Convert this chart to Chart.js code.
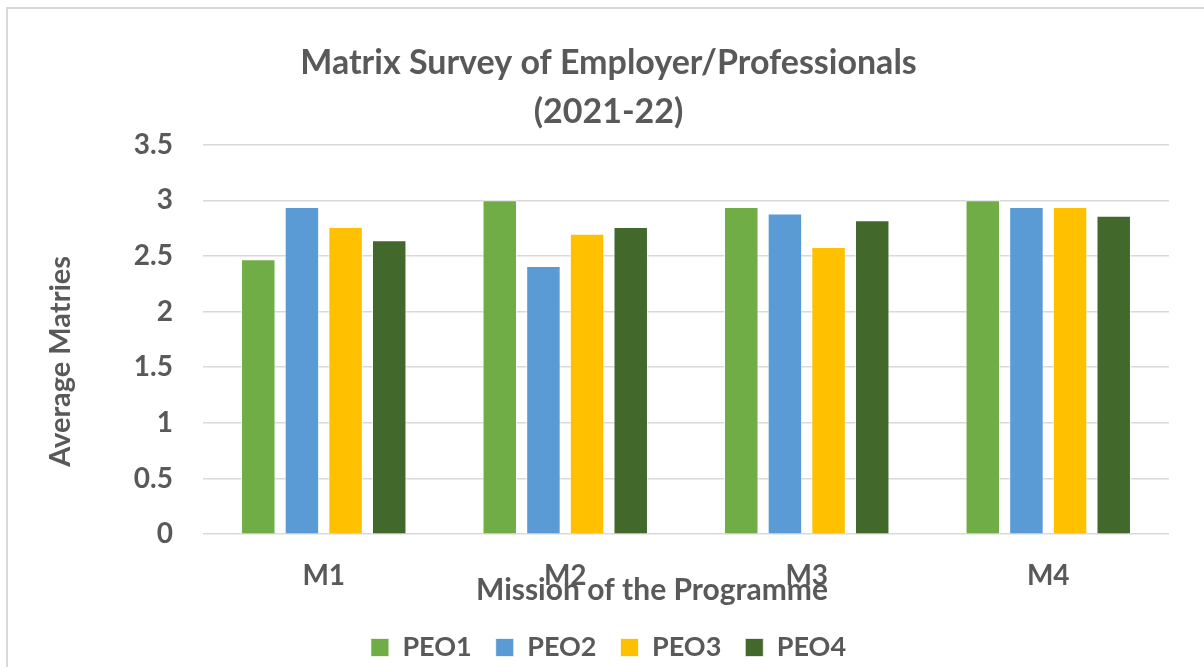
<!DOCTYPE html>
<html>
<head>
<meta charset="utf-8">
<script src="https://cdn.jsdelivr.net/npm/chart.js@4.4.0/dist/chart.umd.min.js"></script>
<style>
    body { margin: 0; background: #fff; overflow: hidden; }
    .chart-box {
        position: absolute;
        left: 6px;
        top: 7px;
        width: 1212px;
        height: 662px;
        border: 2px solid #d9d9d9;
        border-right: none;
        border-bottom: none;
    }
</style>
</head>
<body>
<div class="chart-box">
    <canvas id="surveyChart"></canvas>
</div>
<script>
// Chart data
const categories = ['M1', 'M2', 'M3', 'M4'];
const seriesNames = ['PEO1', 'PEO2', 'PEO3', 'PEO4'];
const peo1 = [2.47, 3.00, 2.94, 3.00];
const peo2 = [2.94, 2.41, 2.88, 2.94];
const peo3 = [2.76, 2.70, 2.58, 2.94];
const peo4 = [2.64, 2.76, 2.82, 2.86];
const seriesColors = ['#70AD47', '#5B9BD5', '#FFC000', '#43682B'];
const titleLines = ['Matrix Survey of Employer/Professionals', '(2021-22)'];
const xTitle = 'Mission of the Programme';
const yTitle = 'Average Matries';

const textColor = '#595959';
const fontFamily = 'Lato, "Open Sans", sans-serif';

// ==============================================
// axis titles drawn relative to the chart area
const axisTitles = {
    id: 'axisTitles',
    afterDraw(chart) {
        const ctx = chart.ctx;
        const area = chart.chartArea;
        ctx.save();
        ctx.fillStyle = textColor;
        ctx.textAlign = 'center';
        ctx.textBaseline = 'middle';
        // x axis title (sits a bit left of centre, like the original)
        ctx.font = 'bold 30px ' + fontFamily;
        ctx.fillText(xTitle, (area.left + area.right) / 2 - 34, area.bottom + 56);
        // y axis title, rotated
        ctx.font = 'bold 29px ' + fontFamily;
        ctx.translate(53, (area.top + area.bottom) / 2 + 22);
        ctx.rotate(-Math.PI / 2);
        ctx.fillText(yTitle, 0, 0);
        ctx.restore();
    }
};

const datasets = [peo1, peo2, peo3, peo4].map((values, i) => ({
    label: seriesNames[i],
    data: values,
    backgroundColor: seriesColors[i],
    borderColor: 'rgba(255,255,255,0.7)',
    borderWidth: 1,
    categoryPercentage: 0.723,
    barPercentage: 0.79
}));

new Chart(document.getElementById('surveyChart'), {
    type: 'bar',
    data: {
        labels: categories,
        datasets: datasets
    },
    plugins: [axisTitles],
    options: {
        responsive: true,
        maintainAspectRatio: false,
        animation: false,
        layout: {
            padding: { left: 40, right: 51, top: 0, bottom: 0 }
        },
        scales: {
            x: {
                grid: { display: false },
                border: { display: false },
                ticks: {
                    color: textColor,
                    font: { family: fontFamily, size: 28, weight: 'bold', lineHeight: 0.35 },
                    padding: 29
                }
            },
            y: {
                min: 0,
                max: 3.5,
                afterFit: function(scale) {
                    scale.width = 155; // room for the axis title
                },
                grid: {
                    color: '#d9d9d9',
                    lineWidth: 1.5,
                    drawTicks: false
                },
                border: { display: false },
                ticks: {
                    stepSize: 0.5,
                    color: textColor,
                    font: { family: fontFamily, size: 28, weight: 'bold' },
                    padding: 30,
                    callback: function(value) {
                        return String(value);
                    }
                }
            }
        },
        plugins: {
            title: {
                display: true,
                text: titleLines,
                color: textColor,
                font: { family: fontFamily, size: 34, weight: 'bold', lineHeight: 1.45 },
                padding: { top: 29, bottom: 8 }
            },
            legend: {
                position: 'bottom',
                labels: {
                    color: textColor,
                    font: { family: fontFamily, size: 27, weight: 'bold' },
                    boxWidth: 18,
                    boxHeight: 18,
                    padding: 24
                }
            },
            tooltip: { enabled: false }
        }
    }
});
</script>
</body>
</html>
